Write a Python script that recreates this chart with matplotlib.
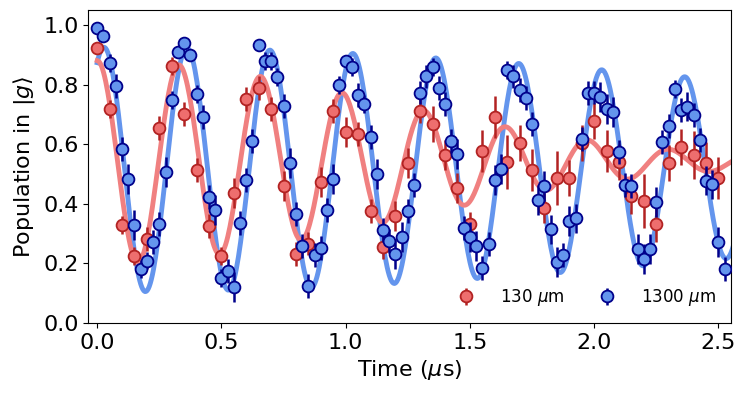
import numpy as np
import matplotlib
matplotlib.use("Agg")
import matplotlib.pyplot as plt

# --- data ---
# 1300 um (blue), sampled every 25 ns
t_blue = np.arange(102) * 0.025
p_blue = [0.991, 0.962, 0.871, 0.795, 0.584, 0.483, 0.328, 0.183, 0.210, 0.271,
          0.332, 0.506, 0.747, 0.910, 0.939, 0.899, 0.768, 0.692, 0.424, 0.378,
          0.150, 0.174, 0.122, 0.337, 0.480, 0.611, 0.933, 0.879, 0.879, 0.826,
          0.728, 0.536, 0.365, 0.258, 0.125, 0.228, 0.251, 0.379, 0.483, 0.799,
          0.880, 0.858, 0.765, 0.734, 0.623, 0.499, 0.312, 0.275, 0.231, 0.290,
          0.376, 0.463, 0.773, 0.827, 0.858, 0.788, 0.734, 0.612, 0.566, 0.320,
          0.290, 0.258, 0.186, 0.264, 0.480, 0.517, 0.849, 0.827, 0.782, 0.756,
          0.667, 0.413, 0.460, 0.314, 0.206, 0.228, 0.342, 0.351, 0.617, 0.771,
          0.773, 0.759, 0.717, 0.709, 0.573, 0.463, 0.460, 0.248, 0.215, 0.248,
          0.407, 0.606, 0.662, 0.785, 0.715, 0.726, 0.698, 0.614, 0.478, 0.465,
          0.273, 0.181]
e_blue = [0.02, 0.02, 0.03, 0.04, 0.04, 0.05, 0.05, 0.03, 0.03, 0.04,
          0.04, 0.05, 0.03, 0.02, 0.02, 0.02, 0.03, 0.04, 0.04, 0.05,
          0.03, 0.04, 0.05, 0.04, 0.04, 0.04, 0.02, 0.03, 0.03, 0.03,
          0.04, 0.05, 0.04, 0.04, 0.04, 0.04, 0.04, 0.04, 0.05, 0.03,
          0.02, 0.03, 0.04, 0.03, 0.04, 0.05, 0.04, 0.04, 0.05, 0.05,
          0.04, 0.04, 0.04, 0.04, 0.03, 0.04, 0.04, 0.04, 0.05, 0.04,
          0.05, 0.05, 0.04, 0.04, 0.05, 0.05, 0.03, 0.04, 0.04, 0.04,
          0.04, 0.05, 0.05, 0.05, 0.05, 0.04, 0.05, 0.05, 0.04, 0.04,
          0.04, 0.05, 0.05, 0.05, 0.04, 0.04, 0.04, 0.05, 0.05, 0.05,
          0.05, 0.04, 0.04, 0.03, 0.04, 0.05, 0.04, 0.04, 0.05, 0.05,
          0.05, 0.04]

# 130 um (red), sampled every 50 ns
t_red = np.arange(51) * 0.05
p_red = [0.924, 0.717, 0.328, 0.224, 0.281, 0.653, 0.862, 0.700, 0.513, 0.326,
         0.224, 0.435, 0.751, 0.788, 0.717, 0.461, 0.231, 0.267, 0.474, 0.711,
         0.640, 0.634, 0.376, 0.256, 0.359, 0.538, 0.711, 0.667, 0.564, 0.452,
         0.331, 0.577, 0.692, 0.541, 0.603, 0.513, 0.385, 0.486, 0.486, 0.605,
         0.678, 0.577, 0.541, 0.426, 0.409, 0.331, 0.538, 0.590, 0.564, 0.538,
         0.486]
e_red = [0.02, 0.03, 0.03, 0.03, 0.04, 0.04, 0.03, 0.04, 0.04, 0.04,
         0.03, 0.05, 0.04, 0.04, 0.04, 0.05, 0.04, 0.04, 0.05, 0.04,
         0.05, 0.04, 0.04, 0.04, 0.05, 0.05, 0.04, 0.06, 0.05, 0.05,
         0.04, 0.07, 0.07, 0.09, 0.06, 0.07, 0.05, 0.09, 0.06, 0.06,
         0.06, 0.07, 0.06, 0.06, 0.09, 0.06, 0.06, 0.06, 0.08, 0.07,
         0.07]

# fit parameters (damped cosine, gaussian envelope): offset, amplitude, period, delay, tau
fit_red = (0.54, 0.34, 0.329, 0.0, 1.6)
fit_blue = (0.515, 0.41, 0.334, 0.027, 4.5)

labels = [r"130 $\mu$m", r"1300 $\mu$m"]


def model(t, c, a, T, t0, tau):
    return c + a * np.exp(-(t / tau) ** 2) * np.cos(2 * np.pi * (t - t0) / T)


fig = plt.figure(figsize=(7.48, 3.97), dpi=100)
ax = fig.add_axes([0.118, 0.186, 0.859, 0.789])

tt = np.linspace(0, 2.56, 600)
ax.plot(tt, model(tt, *fit_blue), color="#6495ED", lw=3.5, zorder=1)
ax.plot(tt, model(tt, *fit_red), color="#F08080", lw=3.5, zorder=2)

ax.errorbar(t_red, p_red, yerr=e_red, fmt="o", ms=8.5, mfc="#EE6E6E", mec="#B22222",
            mew=1.3, ecolor="#B22222", elinewidth=1.8, capsize=0, zorder=3, label=labels[0])
ax.errorbar(t_blue, p_blue, yerr=e_blue, fmt="o", ms=8.5, mfc="#6495ED", mec="#00008B",
            mew=1.3, ecolor="#00008B", elinewidth=1.8, capsize=0, zorder=4, label=labels[1])

ax.set_xlim(-0.036, 2.55)
ax.set_ylim(0, 1.05)
ax.set_xticks([0.0, 0.5, 1.0, 1.5, 2.0, 2.5])
ax.set_yticks([0.0, 0.2, 0.4, 0.6, 0.8, 1.0])
ax.tick_params(labelsize=16)
ax.set_xlabel(r"Time ($\mu$s)", fontsize=16)
ax.set_ylabel(r"Population in $|g\rangle$", fontsize=16)

ax.legend(loc="lower right", ncol=2, frameon=False, fontsize=12,
          bbox_to_anchor=(1.0, 0.0), columnspacing=1.6, handletextpad=1.0)

fig.savefig("out.png", dpi=100)
